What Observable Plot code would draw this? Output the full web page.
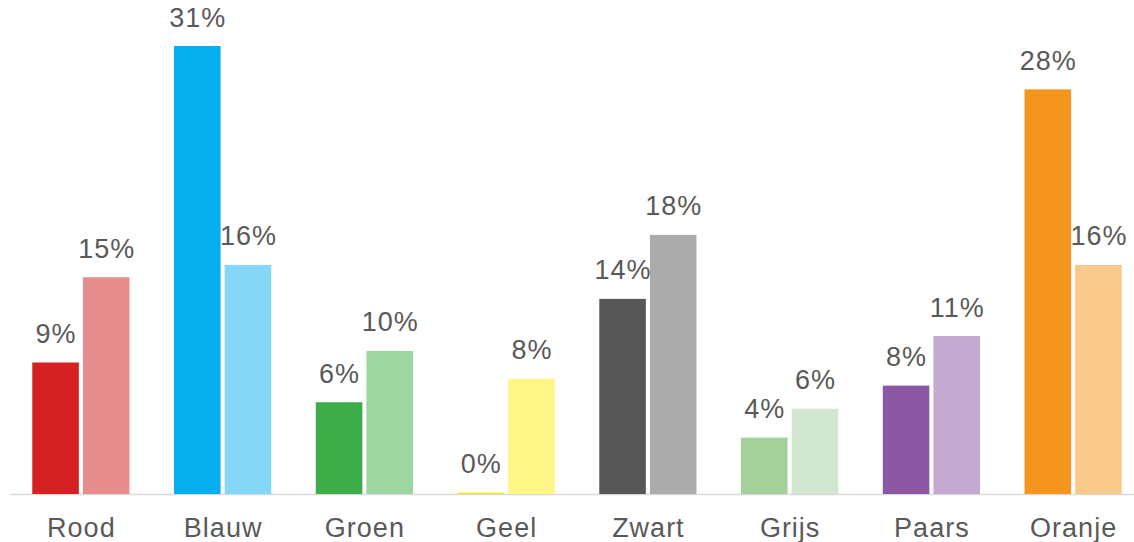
<!DOCTYPE html>
<html>
<head>
<meta charset="utf-8">
<script src="https://cdn.jsdelivr.net/npm/d3@7"></script>
<script src="https://cdn.jsdelivr.net/npm/@observablehq/plot@0.6"></script>
<style>
  html, body { margin: 0; padding: 0; background: #fff; overflow: hidden; }
  #chart svg { display: block; }
</style>
</head>
<body>
<div id="chart"></div>
<script>
// Categories (x-axis tick labels)
const categories = ["Rood", "Blauw", "Groen", "Geel", "Zwart", "Grijs", "Paars", "Oranje"];
// Series names
const seriesNames = ["A", "B"];
// First (dark) series values, in %
const valuesA = [9.1, 31, 6.35, 0.1, 13.5, 3.9, 7.5, 28];
// Second (light) series values, in %
const valuesB = [15, 15.85, 9.9, 7.97, 17.93, 5.9, 10.93, 15.85];
// Data labels as printed
const labelsA = ["9%", "31%", "6%", "0%", "14%", "4%", "8%", "28%"];
const labelsB = ["15%", "16%", "10%", "8%", "18%", "6%", "11%", "16%"];
// Palette per category (dark, light)
const colorsA = ["#d52121", "#07aeed", "#3dad4a", "#f7e81c", "#575757", "#a4d09b", "#8b56a2", "#f6951e"];
const colorsB = ["#e88d8d", "#84d7f6", "#9ed6a1", "#fff685", "#ababab", "#d1e7cf", "#c4a9d1", "#f9c98c"];

const data = categories.flatMap((c, i) => [
  {cat: c, s: seriesNames[0], v: valuesA[i], label: labelsA[i], color: colorsA[i]},
  {cat: c, s: seriesNames[1], v: valuesB[i], label: labelsB[i], color: colorsB[i]}
]);

const chart = Plot.plot({
  width: 1134,
  height: 542,
  marginLeft: 10,
  marginRight: -10,
  marginTop: 46,
  marginBottom: 48,
  style: {fontFamily: "'Liberation Sans', Arial, sans-serif", letterSpacing: "1px", background: "#fff"},
  fx: {domain: categories, padding: 0, round: false, label: null},
  x: {domain: seriesNames, paddingInner: 0.08, paddingOuter: 0.44, round: false, axis: null},
  y: {domain: [0, 31], axis: null},
  color: {type: "identity"},
  marks: [
    Plot.ruleY([0], {stroke: "#d9d9d9", strokeWidth: 1.5}),
    Plot.barY(data, {fx: "cat", x: "s", y: "v", fill: "color"}),
    Plot.text(data, {fx: "cat", x: "s", y: "v", text: "label", dy: -20, lineAnchor: "bottom", fontSize: 27, fill: "#595959"}),
    Plot.axisFx({anchor: "bottom", tickSize: 0, tickPadding: 23, fontSize: 27, color: "#595959", label: null})
  ]
});
document.getElementById("chart").appendChild(chart);
</script>
</body>
</html>
